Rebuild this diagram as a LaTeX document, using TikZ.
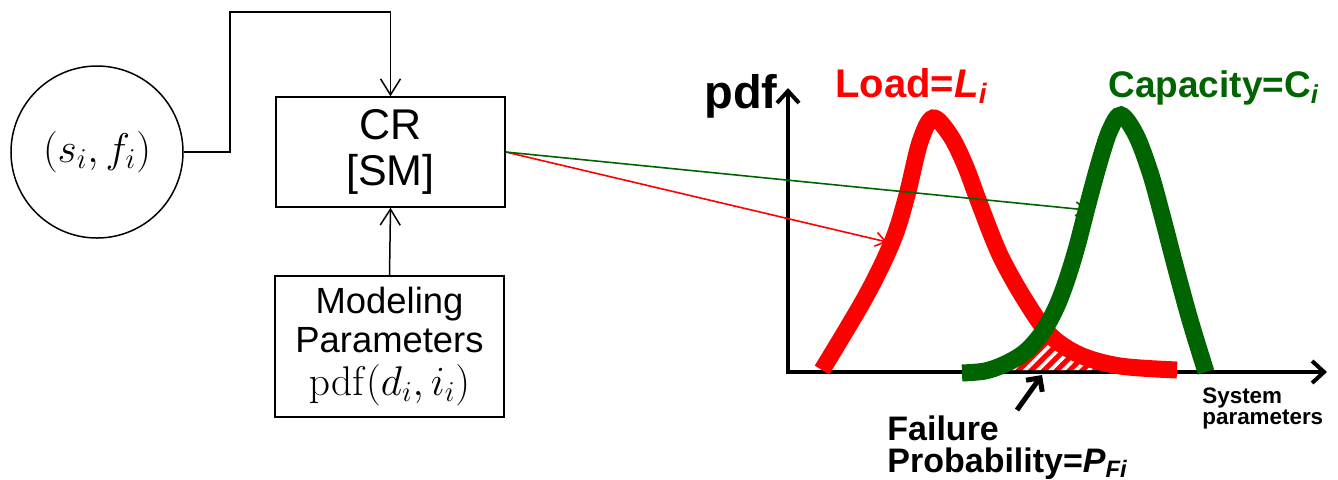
\documentclass[tikz,border=0pt]{standalone}
\usepackage[no-math]{fontspec}
\setmainfont{Liberation Sans}
\usetikzlibrary{arrows.meta,patterns.meta}

\definecolor{capgreen}{RGB}{0,100,0}

\begin{document}
\begin{tikzpicture}[
  x=0.5pt, y=-0.5pt,
  every node/.style={inner sep=0pt},
  box/.style={draw,line width=0.75pt,minimum width=114.5pt,align=center},
  link/.style={line width=0.75pt,-{Straight Barb[length=8pt,width=10pt]}},
  pointer/.style={line width=0.8pt,-{Straight Barb[length=5pt,width=7pt]}},
  axis/.style={line width=2pt,{Straight Barb[length=6pt,width=11pt]}-{Straight Barb[length=6pt,width=11pt]}},
  curve/.style={line width=8.5pt,smooth,tension=0.55},
  lbl/.style={font=\bfseries\fontsize{#1}{#1}\selectfont,anchor=base west},
  lbl/.default=17
]
  \useasboundingbox (0,0) rectangle (1338,479);

  \node[draw,circle,line width=0.75pt,minimum size=86pt,font=\fontsize{20}{20}\selectfont] (src) at (97,152) {$(s_i,f_i)$};
  \node[box,minimum height=55pt,font=\fontsize{21.5}{23}\selectfont] (cr) at (390.5,152) {CR\\{[SM]}};
  \node[box,minimum height=70.5pt,font=\fontsize{18.2}{19.5}\selectfont] (model) at (389.5,346.5)
    {Modeling\\Parameters\\[2pt]{\fontsize{20.5}{20.5}\selectfont$\mathrm{pdf}(d_i,i_i)$}};

  \coordinate (bend) at (230,12);
  \draw[link] (src.east) -| (bend) -| (cr.north);
  \draw[link] (model.north) -- (cr.south);

  % axes of the pdf plot
  \coordinate (ytop) at (788,88);
  \coordinate (orig) at (788,372);
  \coordinate (xend) at (1327,372);
  \draw[axis] (ytop) -- (orig) -- (xend);

  \path[fill=red,postaction={pattern={Lines[angle=45,distance=4.5pt,line width=1.8pt]},pattern color=white}]
    (1000,370) -- (1042,333) -- (1050,333) -- (1075,353) -- (1100,363) -- (1100,370) -- cycle;

  \draw[red,curve] plot coordinates {(822,370) (866,296) (893,240) (907,195) (920,142) (933,118) (950,135) (965,165) (980,205) (1000,255) (1025,300) (1050,335) (1080,355) (1120,366) (1177,370)};
  \draw[capgreen,curve] plot coordinates {(962,373) (985,371) (1005,364) (1025,352) (1042,333) (1055,310) (1065,285) (1076,250) (1089,200) (1100,160) (1110,130) (1121,115) (1136,135) (1150,172) (1162,215) (1175,265) (1190,320) (1206,372)};

  \coordinate (redhit) at (887,242);
  \coordinate (greenhit) at (1087,210);
  \draw[red,pointer] (cr.east) -- (redhit);
  \draw[capgreen,pointer] (cr.east) -- (greenhit);

  \node[lbl=23.5] (pdf) at (704,108) {pdf};
  \node[lbl=20,red] (load) at (835,97) {Load=\textit{L}\textsubscript{\textit{i}}};
  \node[lbl=18.5,capgreen] (cap) at (1108,97) {Capacity=C\textsubscript{\textit{i}}};

  \coordinate (pftail) at (1017,410);
  \coordinate (pftip) at (1042,375);
  \draw[line width=2.5pt,-{Straight Barb[length=5pt,width=10pt]}] (pftail) -- (pftip);
  \node[lbl] (fail) at (887,440) {Failure};
  \node[lbl] (prob) at (887,472) {Probability=\textit{P}\textsubscript{\textit{Fi}}};

  \node[lbl=11.2] (sys) at (1202,403) {System};
  \node[lbl=11.2] (par) at (1202,424) {parameters};
\end{tikzpicture}
\end{document}
